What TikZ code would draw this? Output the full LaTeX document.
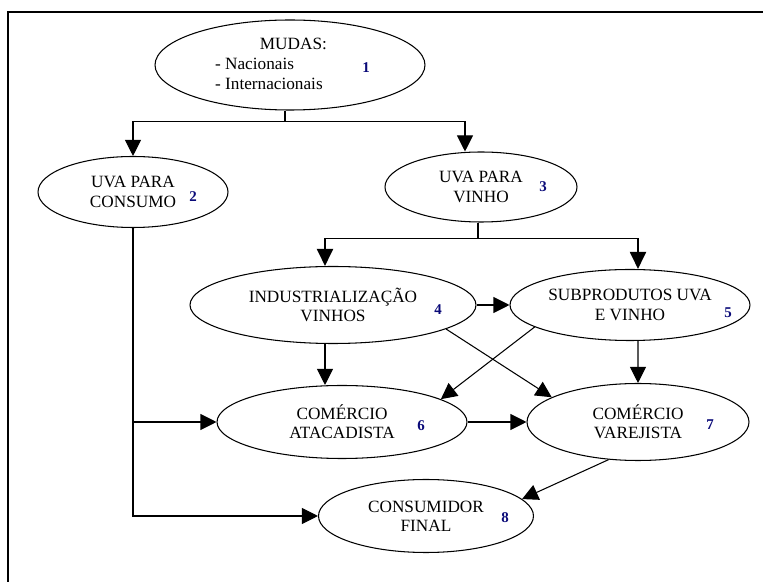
\documentclass[tikz,border=0pt]{standalone}
\usepackage{fontspec}
\setmainfont{Liberation Serif}
\usetikzlibrary{shapes.geometric, arrows.meta, positioning}

\definecolor{numblue}{RGB}{10,10,120}

\begin{document}
\begin{tikzpicture}[
        elip/.style={ellipse, draw, line width=0.6pt, inner sep=0pt, align=center, font=\fontsize{9.8}{11}\selectfont},
        num/.style={font=\fontsize{8.5}{9}\selectfont\bfseries, text=numblue},
        arr/.style={-{Triangle[length=3.2mm,width=3.2mm]}, line width=0.6pt},
        thickarr/.style={-{Triangle[length=3.4mm,width=3.2mm]}, line width=1.1pt}
    ]
    \useasboundingbox (0,0) rectangle (15.26,-11.64);
    % frame
    \draw[line width=1.1pt] (0.16,-11.64) |- (15.26,-0.24);

    \node[elip, minimum width=5.4cm, minimum height=1.8cm] (mudas) at (5.8,-1.3) {};
    \node[align=left, font=\fontsize{9.8}{11.6}\selectfont] (mudastxt) at (5.42,-1.28) {\hspace*{2.6em}MUDAS:\\- Nacionais\\- Internacionais};
    \node[elip, minimum width=3.8cm, minimum height=1.42cm] (consumo) at (2.66,-3.84) {UVA PARA\\CONSUMO};
    \node[elip, minimum width=3.84cm, minimum height=1.4cm] (vinho) at (9.62,-3.74) {UVA PARA\\VINHO};
    \node[elip, minimum width=5.72cm, minimum height=1.54cm] (indust) at (6.66,-6.1) {INDUSTRIALIZAÇÃO\\VINHOS};
    \node[elip, minimum width=4.8cm, minimum height=1.42cm] (subprod) at (12.6,-6.1) {SUBPRODUTOS UVA\\E VINHO};
    \node[elip, minimum width=5.0cm, minimum height=1.46cm] (atac) at (6.84,-8.44) {COMÉRCIO\\ATACADISTA};
    \node[elip, minimum width=4.44cm, minimum height=1.54cm] (varej) at (12.76,-8.44) {COMÉRCIO\\VAREJISTA};
    \node[elip, minimum width=4.3cm, minimum height=1.46cm] (final) at (8.52,-10.32) {CONSUMIDOR\\FINAL};

    \node[num] (n1) at (7.32,-1.36) {1};
    \node[num] (n2) at (3.86,-3.94) {2};
    \node[num] (n3) at (10.86,-3.74) {3};
    \node[num] (n4) at (8.76,-6.2) {4};
    \node[num] (n5) at (14.56,-6.26) {5};
    \node[num] (n6) at (8.42,-8.52) {6};
    \node[num] (n7) at (14.2,-8.5) {7};
    \node[num] (n8) at (10.1,-10.36) {8};

    % mudas -> uva
    \draw[line width=0.6pt] ([xshift=-0.1cm]mudas.south) -- ++(0,-0.22) coordinate (b1);
    \draw[arr] (b1) -| (consumo.north);
    \draw[arr] (b1) -| ([xshift=-0.32cm]vinho.north);
    % uva para vinho
    \draw[line width=1.1pt] ([xshift=-0.06cm]vinho.south) -- ++(0,-0.32) coordinate (b3);
    \draw[thickarr] (b3) -| ([xshift=-0.16cm]indust.north);
    \draw[thickarr] (b3) -| ([xshift=0.16cm]subprod.north);
    % industria, subprodutos, comercio
    \draw[arr] (indust.east) -- (subprod.west);
    \draw[arr] ([xshift=-0.16cm]indust.south) -- ([xshift=-0.34cm]atac.north);
    \draw[arr] (indust.-12) -- (varej.164);
    \draw[arr] (subprod.193) -- (atac.13);
    \draw[arr] ([xshift=0.16cm]subprod.south) -- (varej.north);
    \draw[arr] (atac.east) -- (varej.west);
    \draw[arr] (varej.232) -- (final.10);
    % uva para consumo
    \draw[arr] (consumo.south) |- (atac.west);
    \draw[arr] (consumo.south) |- (final.west);
\end{tikzpicture}
\end{document}
